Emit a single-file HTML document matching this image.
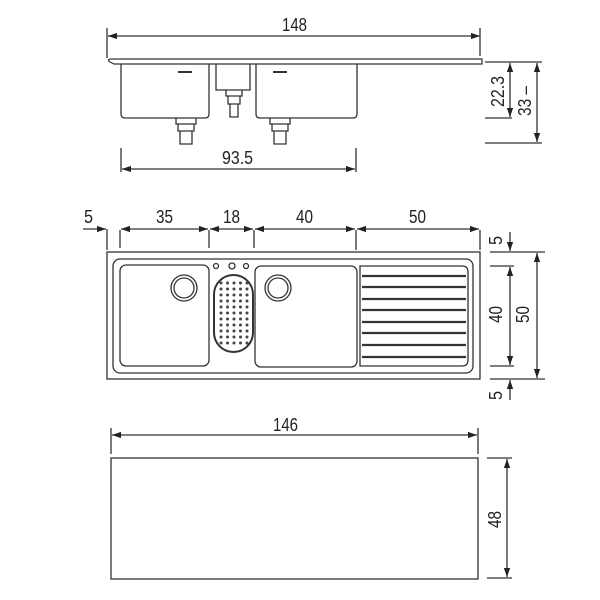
<!DOCTYPE html>
<html><head><meta charset="utf-8"><style>html,body{margin:0;padding:0;background:#fff}svg{display:block}
text{font-family:"Liberation Sans Narrow","Liberation Sans",sans-serif;font-size:18px;fill:#222}</style></head>
<body>
<svg width="600" height="600" viewBox="0 0 600 600" xmlns="http://www.w3.org/2000/svg">
<defs>
<marker id="a" viewBox="0 0 10 10" refX="10" refY="5" markerWidth="7" markerHeight="7" orient="auto-start-reverse"><path d="M0,1.5L10,5L0,8.5z" fill="#222"/></marker>
</defs>
<g stroke="#333" stroke-width="1.3" fill="none">
<line x1="108" y1="36" x2="480" y2="36" marker-start="url(#a)" marker-end="url(#a)"/>
<line x1="107" y1="28" x2="107" y2="58"/><line x1="480" y1="28" x2="480" y2="56"/>
<path d="M110,62 Q106,59 112,59 L482,59 L482,64 L114,64 Z" stroke-width="1.2"/>
<path d="M121,64 V114 Q121,118 125,118 H205 Q209,118 209,114 V64"/>
<line x1="178" y1="72" x2="192" y2="72" stroke-width="2"/>
<path d="M216,64 V90 H250 V64"/>
<path d="M226,90 V96 H242 V90 M228,96 V104 H240 V96 M230,104 V117 H238 V104"/>
<path d="M256,64 V114 Q256,118 260,118 H353 Q357,118 357,114 V64"/>
<line x1="273" y1="72" x2="287" y2="72" stroke-width="2"/>
<path d="M176,118 V124 H196 V118 M178,124 V131 H194 V124 M180,131 V144 H192 V131"/>
<path d="M270,118 V124 H290 V118 M272,124 V131 H288 V124 M274,131 V144 H286 V131"/>
<line x1="121" y1="148" x2="121" y2="172"/><line x1="356" y1="148" x2="356" y2="172"/>
<line x1="122" y1="169" x2="355" y2="169" marker-start="url(#a)" marker-end="url(#a)"/>
<line x1="485" y1="62" x2="542" y2="62"/><line x1="485" y1="118" x2="512" y2="118"/><line x1="485" y1="143" x2="542" y2="143"/>
<line x1="510" y1="63" x2="510" y2="117" marker-start="url(#a)" marker-end="url(#a)"/>
<line x1="537" y1="63" x2="537" y2="142" marker-start="url(#a)" marker-end="url(#a)"/>
<line x1="83" y1="229" x2="106" y2="229" marker-end="url(#a)"/>
<line x1="121" y1="229" x2="208" y2="229" marker-start="url(#a)" marker-end="url(#a)"/>
<line x1="210" y1="229" x2="253" y2="229" marker-start="url(#a)" marker-end="url(#a)"/>
<line x1="255" y1="229" x2="355" y2="229" marker-start="url(#a)" marker-end="url(#a)"/>
<line x1="357" y1="229" x2="479" y2="229" marker-start="url(#a)" marker-end="url(#a)"/>
<line x1="107" y1="229" x2="107" y2="250"/><line x1="120" y1="230" x2="120" y2="248"/>
<line x1="209" y1="230" x2="209" y2="248"/><line x1="254" y1="230" x2="254" y2="248"/>
<line x1="356" y1="230" x2="356" y2="250"/><line x1="480" y1="230" x2="480" y2="250"/>
<rect x="107" y="252" width="373" height="127"/>
<rect x="113" y="259" width="360" height="114" rx="7"/>
<rect x="120" y="265" width="89" height="101" rx="6"/>
<rect x="255" y="266" width="102" height="101" rx="6"/>
<path d="M360,266 H462 Q468,266 468,272 V360 Q468,366 462,366 H360 Z"/>
<circle cx="184" cy="288" r="13"/><circle cx="184" cy="288" r="10"/>
<circle cx="278" cy="288" r="13"/><circle cx="278" cy="288" r="10"/>
<rect x="214" y="275" width="39" height="77" rx="19.5" stroke-width="2"/>
<circle cx="216" cy="266" r="2.5"/><circle cx="232" cy="266" r="3"/><circle cx="246" cy="266" r="2.5"/>
<g stroke-width="2.2">
<line x1="362" y1="276" x2="466" y2="276"/><line x1="362" y1="287" x2="466" y2="287"/>
<line x1="362" y1="299" x2="466" y2="299"/><line x1="362" y1="310" x2="466" y2="310"/>
<line x1="362" y1="322" x2="466" y2="322"/><line x1="362" y1="333" x2="466" y2="333"/>
<line x1="362" y1="345" x2="466" y2="345"/><line x1="362" y1="357" x2="466" y2="357"/>
</g>
<line x1="490" y1="252" x2="545" y2="252"/><line x1="490" y1="266" x2="514" y2="266"/>
<line x1="490" y1="366" x2="514" y2="366"/><line x1="490" y1="379" x2="545" y2="379"/>
<line x1="510" y1="232" x2="510" y2="251" marker-end="url(#a)"/>
<line x1="510" y1="267" x2="510" y2="365" marker-start="url(#a)" marker-end="url(#a)"/>
<line x1="510" y1="400" x2="510" y2="380" marker-end="url(#a)"/>
<line x1="537" y1="253" x2="537" y2="378" marker-start="url(#a)" marker-end="url(#a)"/>
<line x1="111" y1="428" x2="111" y2="454"/><line x1="478" y1="428" x2="478" y2="454"/>
<line x1="112" y1="435" x2="477" y2="435" marker-start="url(#a)" marker-end="url(#a)"/>
<rect x="111" y="458" width="367" height="121"/>
<line x1="487" y1="458" x2="512" y2="458"/><line x1="487" y1="578" x2="512" y2="578"/>
<line x1="507" y1="459" x2="507" y2="577" marker-start="url(#a)" marker-end="url(#a)"/>
</g>
<g fill="#444">
<g id="dots">
<circle cx="221" cy="283" r="1.5"/><circle cx="227.5" cy="283" r="1.5"/><circle cx="234" cy="283" r="1.5"/><circle cx="240.5" cy="283" r="1.5"/><circle cx="247" cy="283" r="1.5"/>
</g>
<use href="#dots" y="6"/><use href="#dots" y="12"/><use href="#dots" y="18"/><use href="#dots" y="24"/><use href="#dots" y="30"/><use href="#dots" y="36"/><use href="#dots" y="42"/><use href="#dots" y="48"/><use href="#dots" y="54"/><use href="#dots" y="60"/>
</g>
<text x="282" y="31" textLength="25" lengthAdjust="spacingAndGlyphs">148</text>
<text x="222" y="164" textLength="31" lengthAdjust="spacingAndGlyphs">93.5</text>
<text transform="translate(504,107) rotate(-90)" textLength="31" lengthAdjust="spacingAndGlyphs">22.3</text>
<text transform="translate(531,116) rotate(-90)" textLength="30" lengthAdjust="spacingAndGlyphs">33 –</text>
<text x="84" y="223" textLength="9" lengthAdjust="spacingAndGlyphs">5</text>
<text x="156" y="223" textLength="17" lengthAdjust="spacingAndGlyphs">35</text>
<text x="223" y="223" textLength="17" lengthAdjust="spacingAndGlyphs">18</text>
<text x="296" y="223" textLength="17" lengthAdjust="spacingAndGlyphs">40</text>
<text x="409" y="223" textLength="17" lengthAdjust="spacingAndGlyphs">50</text>
<text transform="translate(502,245) rotate(-90)" textLength="9" lengthAdjust="spacingAndGlyphs">5</text>
<text transform="translate(502,323) rotate(-90)" textLength="17" lengthAdjust="spacingAndGlyphs">40</text>
<text transform="translate(529,323) rotate(-90)" textLength="17" lengthAdjust="spacingAndGlyphs">50</text>
<text transform="translate(502,400) rotate(-90)" textLength="9" lengthAdjust="spacingAndGlyphs">5</text>
<text x="273" y="431" textLength="25" lengthAdjust="spacingAndGlyphs">146</text>
<text transform="translate(501,528) rotate(-90)" textLength="17" lengthAdjust="spacingAndGlyphs">48</text>
</svg>
</body></html>
